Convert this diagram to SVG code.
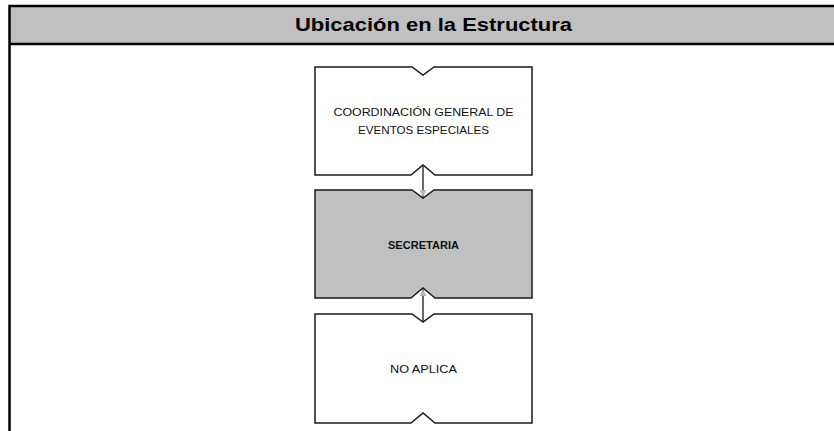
<svg xmlns="http://www.w3.org/2000/svg" width="834" height="431" viewBox="0 0 834 431">
<style>
.frame{fill:none;stroke:#000;stroke-width:2.5}
.box{fill:#fff;stroke:#1a1a1a;stroke-width:1.5;stroke-linejoin:miter}
.box.sel{fill:#c0c0c0}
.lbl{font-family:"Liberation Sans",Arial,sans-serif;font-size:11px;fill:#111;text-anchor:middle}
.lbl.b{font-weight:bold}
.title{font-family:"Liberation Sans",Arial,sans-serif;font-size:19px;font-weight:bold;fill:#000;text-anchor:middle}
.conn{stroke:#1a1a1a;stroke-width:1.3;fill:none}
</style>
<defs>
<marker id="ah" viewBox="0 0 10 10" refX="10" refY="5" markerWidth="7" markerHeight="7" markerUnits="userSpaceOnUse" orient="auto">
<path d="M0,0 L10,5 L0,10 Z" fill="#b4b4b4"/>
</marker>
</defs>
<rect width="834" height="431" fill="#fff"/>
<g id="header">
<rect x="9.5" y="6" width="840" height="38" fill="#c0c0c0"/>
<path class="frame" d="M9.5,431 V6 H850"/>
<path class="frame" d="M9.5,44 H850"/>
<text class="title" x="433.5" y="31" textLength="277" lengthAdjust="spacingAndGlyphs">Ubicación en la Estructura</text>
</g>
<g id="node-coordinacion">
<path class="box" d="M315,67 H412 L423,75 L434,67 H532 V175 H435 L423,165 L411,175 H315 Z"/>
<text class="lbl" x="423.5" y="116" textLength="180" lengthAdjust="spacingAndGlyphs">COORDINACIÓN GENERAL DE</text>
<text class="lbl" x="423.5" y="134" textLength="131" lengthAdjust="spacingAndGlyphs">EVENTOS ESPECIALES</text>
</g>
<g id="node-secretaria">
<path class="box sel" d="M315,190 H412 L423,198 L434,190 H532 V298 H435 L423,288 L411,298 H315 Z"/>
<text class="lbl b" x="423.5" y="249" textLength="71" lengthAdjust="spacingAndGlyphs">SECRETARIA</text>
</g>
<g id="node-noaplica">
<path class="box" d="M315,314 H412 L423,322 L434,314 H532 V423 H435 L423,413 L411,423 H315 Z"/>
<text class="lbl" x="423.5" y="373" textLength="67" lengthAdjust="spacingAndGlyphs">NO APLICA</text>
</g>
<g id="connectors">
<line class="conn" x1="423" y1="165" x2="423" y2="197" marker-end="url(#ah)"/>
<line class="conn" x1="423" y1="322" x2="423" y2="289" marker-end="url(#ah)"/>
</g>
</svg>
